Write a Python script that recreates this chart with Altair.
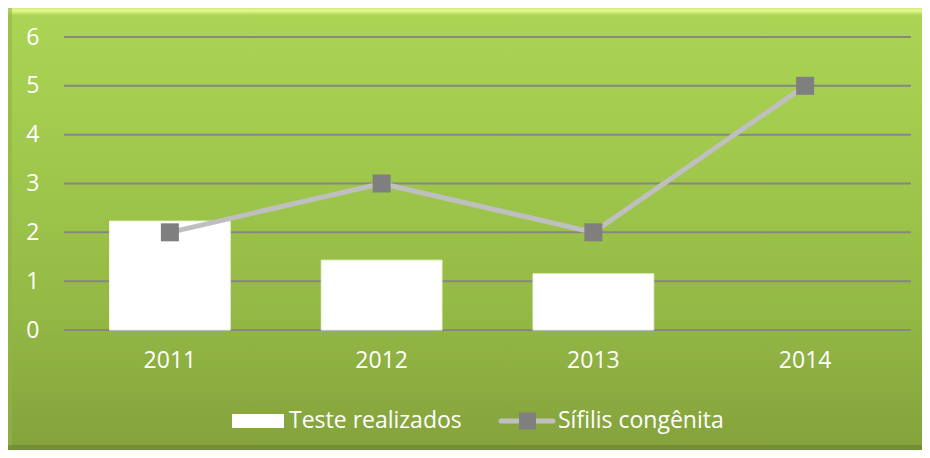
import altair as alt
import pandas as pd

# ---- data ----
years = ["2011", "2012", "2013", "2014"]
teste_realizados = [2.23, 1.43, 1.15, None]
sifilis_congenita = [2, 3, 2, 5]
y_ticks = [0, 1, 2, 3, 4, 5, 6]
series_names = ["Teste realizados", "Sífilis congênita"]

df = pd.DataFrame({"ano": years, "teste": teste_realizados, "sifilis": sifilis_congenita})
ticks_df = pd.DataFrame({"tick": y_ticks})
one = pd.DataFrame({"k": [0]})

# ---- layout ----
W, H = 847, 293
PL, PT, PR, PB = 56, 29, 11, 120
FONT = "Open Sans"
FS = 23
WHITE = "#ffffff"
GRID = "#868686"

x_enc = alt.X(
    "ano:O",
    sort=years,
    scale=alt.Scale(domain=years, paddingInner=0.43, paddingOuter=0.215),
    axis=alt.Axis(title=None, labelAngle=0, domain=False, ticks=False, grid=False, zindex=2,
                  labelPadding=19, labelColor=WHITE, labelFontSize=FS, labelFont=FONT),
)
y_scale = alt.Scale(domain=[0, 6], nice=False, zero=True)
y_axis = alt.Axis(title=None, values=y_ticks, domain=False, ticks=False, grid=False, zindex=2,
                  labelPadding=25, labelColor=WHITE, labelFontSize=FS, labelFont=FONT)

# background gradient (decoration)
bg = alt.Chart(one).mark_rect(
    color=alt.LinearGradient(
        gradient="linear", x1=0, x2=0, y1=0, y2=1,
        stops=[alt.GradientStop(color="#acd556", offset=0),
               alt.GradientStop(color="#a0c84c", offset=0.35),
               alt.GradientStop(color="#93b845", offset=0.7),
               alt.GradientStop(color="#84a23c", offset=1)],
    )
).encode(x=alt.value(-PL), x2=alt.value(W + PR), y=alt.value(-PT), y2=alt.value(H + PB))

top_bevel = alt.Chart(one).mark_rect(
    color=alt.LinearGradient(
        gradient="linear", x1=0, x2=0, y1=0, y2=1,
        stops=[alt.GradientStop(color="#d2ec7c", offset=0),
               alt.GradientStop(color="#e4f98e", offset=0.4),
               alt.GradientStop(color="#acd556", offset=1)],
    )
).encode(x=alt.value(-PL), x2=alt.value(W + PR), y=alt.value(-PT), y2=alt.value(-PT + 7))

left_bevel = alt.Chart(one).mark_rect(color="#8fb543", opacity=0.6).encode(
    x=alt.value(-PL), x2=alt.value(-PL + 4), y=alt.value(-PT), y2=alt.value(H + PB))

bottom_bevel = alt.Chart(one).mark_rect(color="#6f8b31", opacity=0.8).encode(
    x=alt.value(-PL), x2=alt.value(W + PR), y=alt.value(H + PB - 5), y2=alt.value(H + PB))

grid = alt.Chart(ticks_df).mark_rule(color=GRID, strokeWidth=2).encode(
    y=alt.Y("tick:Q", scale=y_scale, axis=y_axis))

bars = alt.Chart(df).mark_bar(color=WHITE, stroke="#eef5e0", strokeWidth=1).encode(
    x=x_enc, y=alt.Y("teste:Q", scale=y_scale, axis=y_axis))

line = alt.Chart(df).mark_line(color="#bfbfbf", strokeWidth=5).encode(
    x=x_enc, y=alt.Y("sifilis:Q", scale=y_scale, axis=y_axis))

points = alt.Chart(df).mark_square(color="#7f7f7f", size=324, opacity=1).encode(
    x=x_enc, y=alt.Y("sifilis:Q", scale=y_scale, axis=y_axis))

# manual legend (decoration)
LY = 384
leg_rect = alt.Chart(one).mark_rect(color=WHITE).encode(
    x=alt.value(168), x2=alt.value(220), y=alt.value(LY - 7), y2=alt.value(LY + 7))
leg_text1 = alt.Chart(one).mark_text(
    text=series_names[0], align="left", baseline="middle", color=WHITE, font=FONT, fontSize=FS
).encode(x=alt.value(225), y=alt.value(LY))
leg_line = alt.Chart(one).mark_rule(color="#bfbfbf", strokeWidth=5, strokeCap="round").encode(
    x=alt.value(437), x2=alt.value(489), y=alt.value(LY))
leg_sq = alt.Chart(one).mark_square(color="#7f7f7f", size=289, opacity=1).encode(
    x=alt.value(463.5), y=alt.value(LY))
leg_text2 = alt.Chart(one).mark_text(
    text=series_names[1], align="left", baseline="middle", color=WHITE, font=FONT, fontSize=FS
).encode(x=alt.value(494), y=alt.value(LY))

chart = alt.layer(
    bg, top_bevel, left_bevel, bottom_bevel, grid, bars, line, points,
    leg_rect, leg_text1, leg_line, leg_sq, leg_text2,
).properties(
    width=W, height=H,
    autosize=alt.AutoSizeParams(type="none"),
    padding={"left": PL, "top": PT, "right": PR, "bottom": PB},
).configure_view(stroke=None).configure(background="#ffffff")

chart.save("out.html", embed_options={"renderer": "svg", "actions": False})
